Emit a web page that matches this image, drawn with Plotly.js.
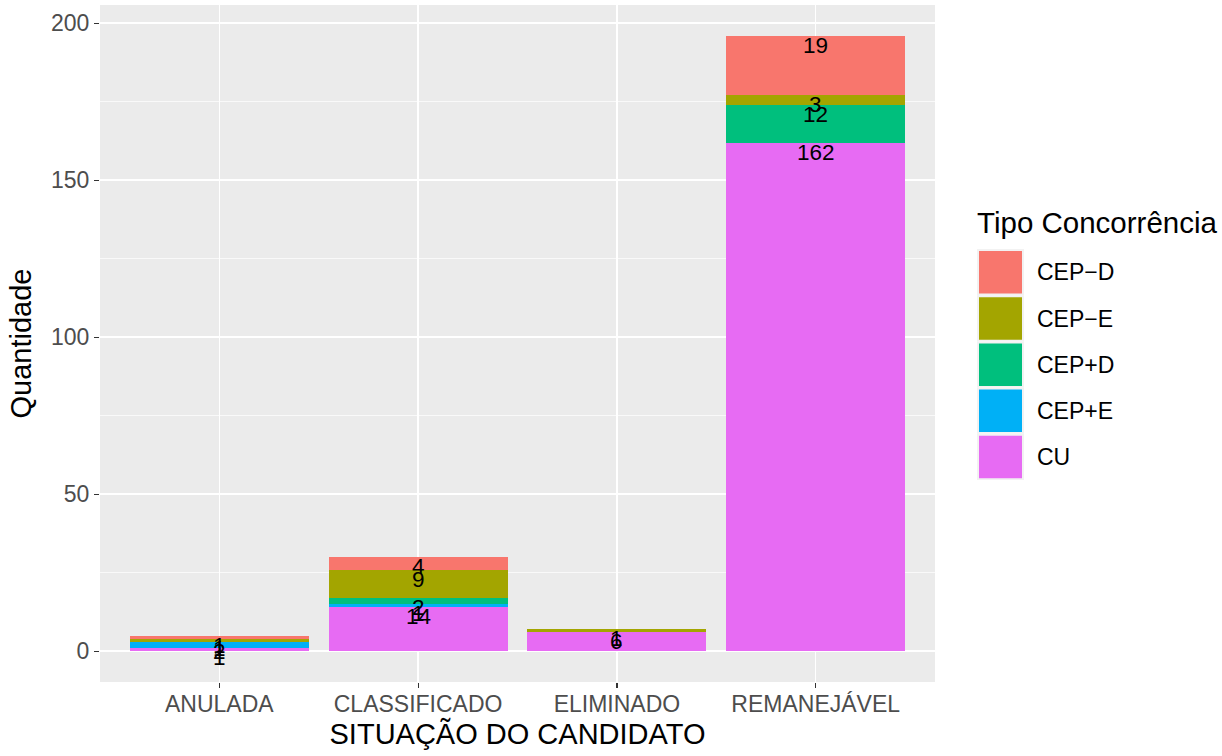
<!DOCTYPE html>
<html>
<head>
<meta charset="utf-8">
<script src="https://cdn.plot.ly/plotly-3.0.1.min.js"></script>
<style>
  html, body { margin: 0; padding: 0; background: #ffffff; }
  #chart { width: 1222px; height: 756px; }
</style>
</head>
<body>
<div id="chart"></div>
<script>
// ---- data ----
const categories = ["ANULADA", "CLASSIFICADO", "ELIMINADO", "REMANEJÁVEL"];
// stacking order bottom -> top
const seriesNames = ["CU", "CEP+E", "CEP+D", "CEP\u2212E", "CEP\u2212D"];
const valuesCU   = [1, 14, 6, 162];
const valuesCEPpE = [2, 1, 0, 0];
const valuesCEPpD = [0, 2, 0, 12];
const valuesCEPmE = [1, 9, 1, 3];
const valuesCEPmD = [1, 4, 0, 19];
const seriesColors = ["#E76BF3", "#00B0F6", "#00BF7D", "#A3A500", "#F8766D"];
// legend order top -> bottom
const legendOrder = ["CEP\u2212D", "CEP\u2212E", "CEP+D", "CEP+E", "CU"];
const yTicks = [0, 50, 100, 150, 200];

const seriesValues = [valuesCU, valuesCEPpE, valuesCEPpD, valuesCEPmE, valuesCEPmD];

// ---- layout geometry ----
const W = 1222, H = 756;
const M = { l: 100, r: 287, t: 5, b: 74 };
const plotW = W - M.l - M.r, plotH = H - M.t - M.b;
const px2x = px => (px - M.l) / plotW;
const py2y = py => (H - M.b - py) / plotH;

const FONT = "Liberation Sans, Arial, Helvetica, sans-serif";

// ---- traces ----
const traces = seriesNames.map((name, i) => ({
  type: "bar",
  name: name,
  x: categories,
  y: seriesValues[i],
  marker: { color: seriesColors[i], line: { width: 0 } },
  showlegend: false,
  hoverinfo: "x+y+name"
}));

// ---- value labels (at top of each stacked segment) ----
const annotations = [];
const cum = categories.map(() => 0);
seriesValues.forEach((vals) => {
  vals.forEach((v, j) => {
    if (v > 0) {
      cum[j] += v;
      annotations.push({
        x: categories[j], y: cum[j], xref: "x", yref: "y",
        text: String(v), showarrow: false,
        xanchor: "center", yanchor: "top", yshift: 5,
        font: { family: FONT, size: 22.5, color: "#000000" }
      });
    }
  });
});

// ---- custom legend (ggplot style) ----
const shapes = [];
annotations.push({
  x: px2x(975), y: py2y(222), xref: "paper", yref: "paper",
  text: "Tipo Concorrência", showarrow: false,
  xanchor: "left", yanchor: "middle",
  font: { family: FONT, size: 29.5, color: "#000000" }
});
legendOrder.forEach((name, k) => {
  const idx = seriesNames.indexOf(name);
  const top = 249 + k * 46.2;
  shapes.push({
    type: "rect", xref: "paper", yref: "paper",
    x0: px2x(977), x1: px2x(1024), y0: py2y(top), y1: py2y(top + 46.2),
    fillcolor: "#F2F2F2", line: { width: 0 }, layer: "above"
  });
  shapes.push({
    type: "rect", xref: "paper", yref: "paper",
    x0: px2x(979), x1: px2x(1022), y0: py2y(top + 2), y1: py2y(top + 44.5),
    fillcolor: seriesColors[idx], line: { width: 0 }, layer: "above"
  });
  annotations.push({
    x: px2x(1035), y: py2y(top + 23.3), xref: "paper", yref: "paper",
    text: name, showarrow: false, xanchor: "left", yanchor: "middle",
    font: { family: FONT, size: 23, color: "#000000" }
  });
});

const layout = {
  width: W, height: H,
  margin: M,
  paper_bgcolor: "#FFFFFF",
  plot_bgcolor: "#EBEBEB",
  barmode: "stack",
  bargap: 0.1,
  showlegend: false,
  font: { family: FONT },
  xaxis: {
    type: "category",
    categoryorder: "array",
    categoryarray: categories,
    range: [-0.6, 3.6],
    showgrid: true, gridcolor: "#FFFFFF", gridwidth: 1.5,
    zeroline: false, showline: false,
    ticks: "outside", ticklen: 5, tickwidth: 1.2, tickcolor: "#333333",
    ticklabelstandoff: -4,
    tickfont: { family: FONT, size: 23, color: "#4D4D4D" },
    title: { text: "SITUAÇÃO DO CANDIDATO", standoff: 2,
             font: { family: FONT, size: 29, color: "#000000" } },
    fixedrange: true
  },
  yaxis: {
    range: [-9.8, 205.8],
    tickvals: yTicks,
    ticktext: yTicks.map(String),
    showgrid: true, gridcolor: "#FFFFFF", gridwidth: 1.5,
    minor: { dtick: 25, tick0: 0, showgrid: true, gridcolor: "#FFFFFF", gridwidth: 0.7, ticks: "" },
    zeroline: false, showline: false,
    ticks: "outside", ticklen: 5, tickwidth: 1.2, tickcolor: "#333333",
    tickfont: { family: FONT, size: 23, color: "#4D4D4D" },
    title: { text: "Quantidade", standoff: 10,
             font: { family: FONT, size: 29, color: "#000000" } },
    fixedrange: true
  },
  annotations: annotations,
  shapes: shapes
};

Plotly.newPlot("chart", traces, layout, { displayModeBar: false, staticPlot: true });
</script>
</body>
</html>
